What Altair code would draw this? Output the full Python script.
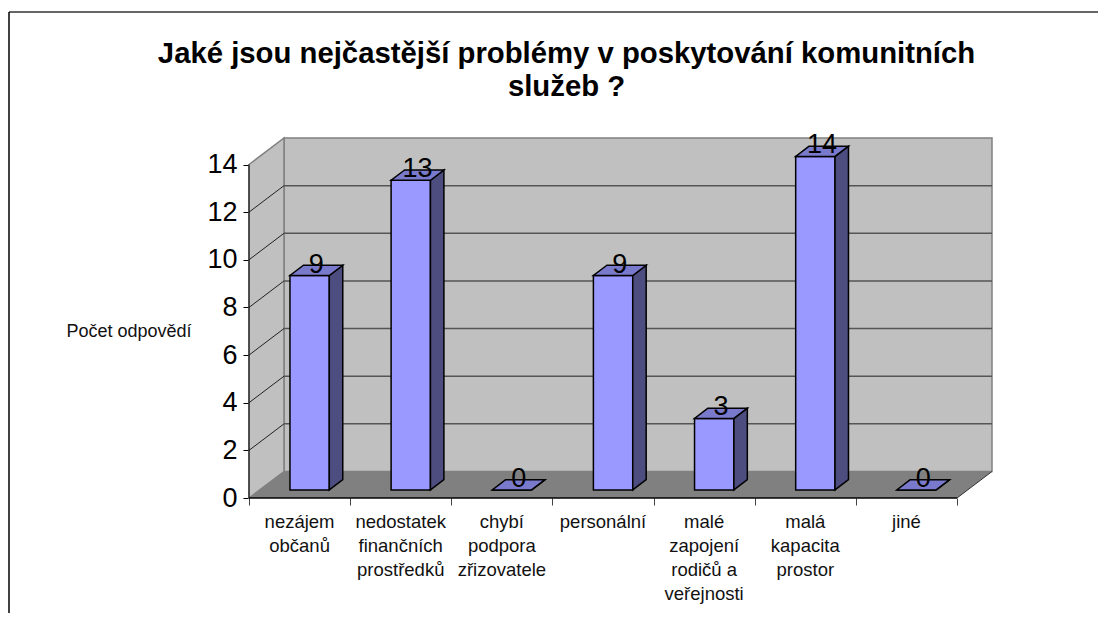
import altair as alt

TITLE = ["Jaké jsou nejčastější problémy v poskytování komunitních", "služeb ?"]
Y_TITLE = "Počet odpovědí"
CATEGORIES = ["nezájem\nobčanů", "nedostatek\nfinančních\nprostředků", "chybí\npodpora\nzřizovatele",
              "personální", "malé\nzapojení\nrodičů a\nveřejnosti", "malá\nkapacita\nprostor", "jiné"]
VALUES = [9, 13, 0, 9, 3, 14, 0]
Y_TICKS = [0, 2, 4, 6, 8, 10, 12, 14]

FONT = "Liberation Sans"
N = len(CATEGORIES)
YMAX = 14
# oblique depth of the 3-D box, in data units
DX, DY = 0.346, 1.1125
# bar placement inside a category slot, in data units
BAR_LEFT, BAR_W = 0.405, 0.389
BAR_BASE, BAR_DX, BAR_DY = 0.34, 0.133, 0.43

X_SCALE = alt.Scale(domain=[0, N + DX], nice=False, zero=False)
Y_SCALE = alt.Scale(domain=[0, YMAX + DY], nice=False, zero=False)
X_AXIS = alt.Axis(values=list(range(N + 1)), labels=False, title=None, domain=False,
                  grid=False, tickSize=7, tickColor="#444444", tickWidth=1)
Y_AXIS = alt.Axis(values=Y_TICKS, title=Y_TITLE, titleAngle=0, titleAlign="left",
                  titleBaseline="middle", titleX=-183, titleY=193, titleFontSize=18,
                  titleFontWeight="normal", titleFont=FONT, titleColor="#111111",
                  domain=False, grid=False, tickSize=6, tickColor="#000000",
                  labelFontSize=27, labelFont=FONT, labelColor="#000000", labelPadding=6)
X = alt.X("x:Q", scale=X_SCALE, axis=X_AXIS)
Y = alt.Y("y:Q", scale=Y_SCALE, axis=Y_AXIS)

# walls and floor -----------------------------------------------------------
back = alt.Chart(alt.Data(values=[{"x": DX, "x2": N + DX, "y": DY, "y2": YMAX + DY}])).mark_rect(
    fill="#C0C0C0", stroke="#808080", strokeWidth=1.5
).encode(x=X, x2="x2:Q", y=Y, y2="y2:Q")

left = alt.Chart(alt.Data(values=[{"x": 0, "y": 0, "y2": YMAX}, {"x": DX, "y": DY, "y2": YMAX + DY}])).mark_area(
    fill="#C0C0C0", stroke="#808080", strokeWidth=1.5, orient="vertical"
).encode(x=X, y=Y, y2="y2:Q")

floor = alt.Chart(alt.Data(values=[{"y": 0, "x": 0, "x2": N}, {"y": DY, "x": DX, "x2": N + DX}])).mark_area(
    fill="#808080", orient="horizontal"
).encode(x=X, x2="x2:Q", y=Y)

inner_ticks = Y_TICKS[1:-1]
back_grid = alt.Chart(alt.Data(values=[{"x": DX, "x2": N + DX, "y": t + DY} for t in inner_ticks])).mark_rule(
    color="#555555", strokeWidth=1.5
).encode(x=X, x2="x2:Q", y=Y)
side_grid = alt.Chart(alt.Data(values=[{"x": 0, "x2": DX, "y": t, "y2": t + DY} for t in inner_ticks])).mark_rule(
    color="#222222", strokeWidth=1
).encode(x=X, x2="x2:Q", y=Y, y2="y2:Q")

# axis lines -----------------------------------------------------------------
y_line = alt.Chart(alt.Data(values=[{"x": 0, "y": 0, "y2": YMAX}])).mark_rule(color="#000000", strokeWidth=1).encode(
    x=X, y=Y, y2="y2:Q")
x_line = alt.Chart(alt.Data(values=[{"x": 0, "x2": N, "y": 0}])).mark_rule(color="#000000", strokeWidth=1.5).encode(
    x=X, x2="x2:Q", y=Y)
corner = alt.Chart(alt.Data(values=[{"x": N, "x2": N + DX, "y": 0, "y2": DY}])).mark_rule(
    color="#333333", strokeWidth=1).encode(x=X, x2="x2:Q", y=Y, y2="y2:Q")

# bars ------------------------------------------------------------------------
front, side, top, labels = [], [], [], []
for i, v in enumerate(VALUES):
    x0 = i + BAR_LEFT
    x1 = x0 + BAR_W
    y0 = BAR_BASE
    y1 = BAR_BASE + v
    front.append({"x": x0, "x2": x1, "y": y0, "y2": y1})
    side += [{"i": i, "x": x1, "y": y0, "y2": y1},
             {"i": i, "x": x1 + BAR_DX, "y": y0 + BAR_DY, "y2": y1 + BAR_DY}]
    top += [{"i": i, "y": y1, "x": x0, "x2": x1},
            {"i": i, "y": y1 + BAR_DY, "x": x0 + BAR_DX, "x2": x1 + BAR_DX}]
    labels.append({"x": (x0 + x1 + BAR_DX) / 2, "y": y1, "t": str(v)})

BAR_STROKE = dict(stroke="#000000", strokeWidth=1.5)
bar_front = alt.Chart(alt.Data(values=front)).mark_rect(fill="#9999FF", **BAR_STROKE).encode(
    x=X, x2="x2:Q", y=Y, y2="y2:Q")
bar_side = alt.Chart(alt.Data(values=side)).mark_area(fill="#4D4D80", orient="vertical", **BAR_STROKE).encode(
    x=X, y=Y, y2="y2:Q", detail="i:N")
bar_top = alt.Chart(alt.Data(values=top)).mark_area(fill="#7A7ACC", orient="horizontal", **BAR_STROKE).encode(
    x=X, x2="x2:Q", y=Y, detail="i:N")
bar_text = alt.Chart(alt.Data(values=labels)).mark_text(
    font=FONT, fontSize=27, color="#000000", align="center", baseline="alphabetic", dy=-3
).encode(x=X, y=Y, text="t:N")

# category labels ----------------------------------------------------------------
cat_text = alt.Chart(alt.Data(values=[{"x": i + 0.5, "y": 0, "t": c} for i, c in enumerate(CATEGORIES)])).mark_text(
    font=FONT, fontSize=18.5, color="#111111", align="center", baseline="alphabetic", lineBreak="\n", lineHeight=24, dy=30
).encode(x=X, y=Y, text="t:N")

# page frame: only the top and left edges are visible
frame_top = alt.Chart(alt.Data(values=[{"k": 0}])).mark_rule(color="#333333", strokeWidth=1.5).encode(
    x=alt.value(-240), x2=alt.value(860), y=alt.value(-126))
frame_left = alt.Chart(alt.Data(values=[{"k": 0}])).mark_rule(color="#000000", strokeWidth=1.5).encode(
    x=alt.value(-240), y=alt.value(-126), y2=alt.value(475))

chart = alt.layer(
    back, left, floor, back_grid, side_grid, y_line, x_line, corner,
    bar_front, bar_side, bar_top, bar_text, cat_text, frame_top, frame_left,
).properties(
    width=743, height=360,
    padding={"left": 241, "top": 130, "right": 106, "bottom": 115},
    autosize=alt.AutoSizeParams(type="none"),
    title=alt.TitleParams(text=TITLE, font=FONT, fontSize=29.3, fontWeight="bold", color="#000000",
                          anchor="middle", frame="group", dx=-54, lineHeight=33, baseline="alphabetic",
                          offset=-114),
).configure_view(stroke=None)

chart.save("out.html", embed_options={"renderer": "svg", "actions": False})
